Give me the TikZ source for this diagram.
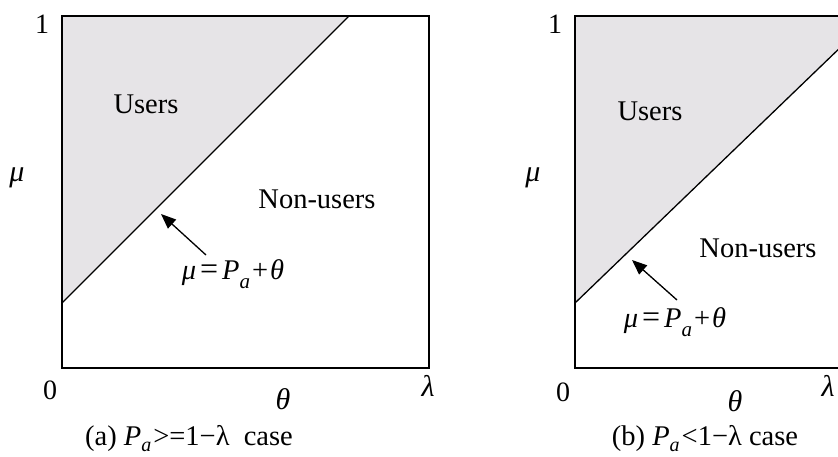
\documentclass[tikz,border=0pt]{standalone}
\usepackage{fontspec}
\setmainfont{Liberation Serif}
\usetikzlibrary{arrows.meta}
\definecolor{shade}{RGB}{230,228,231}
\newcommand{\fsz}[1]{\fontsize{#1}{#1}\selectfont}
\newcommand{\formula}{\textit{μ}\kern4pt{\fsz{32}=}\kern4pt\textit{P}\raisebox{-0.32em}{\fsz{21}\textit{a}}\kern2pt+\kern2pt\textit{θ}}
\tikzset{
  boxline/.style={line width=1.7pt},
  diag/.style={line width=1.3pt},
  region/.style={fill=shade},
  lbl/.style={inner sep=0pt, font=\fsz{28.5}},
  ticklbl/.style={inner sep=0pt, font=\fsz{28}},
  axislbl/.style={inner sep=0pt, font=\fsz{30}\itshape},
  captxt/.style={inner sep=0pt, anchor=base, font=\fsz{28.5}},
  pointer/.style={line width=1.3pt, -{Triangle[length=15pt,width=12pt]}}
}
\begin{document}
\begin{tikzpicture}[x=1pt,y=-1pt]
\useasboundingbox (0,0) rectangle (838,456);
\clip (0,0) rectangle (838,456);
% ---------- (a) ----------
\fill[region] (62,16) -- (349,16) -- (62,303) -- cycle;
\draw[diag] (62,303) -- (349,16);
\draw[boxline] (62,16) rectangle (429,368);
\node[ticklbl] (a1) at (42,24) {1};
\node[ticklbl] (a0) at (50,390) {0};
\node[axislbl] (amu) at (17,178) {μ};
\node[axislbl] (ath) at (283,399) {θ};
\node[axislbl] (ala) at (428,386) {λ};
\node[lbl] (ausers) at (146,104) {Users};
\node[lbl] (anon) at (317,199) {Non-users};
\node[lbl] (aform) at (233,274) {\formula};
\coordinate (atail) at (206,255);
\coordinate (atip) at (161,214);
\draw[pointer] (atail) -- (atip);
\node[captxt] (acap) at (189,445) {(a) \textit{P}\raisebox{-0.24em}{\fsz{20}\textit{a}}\kern2pt>=1−λ\ \ case};
% ---------- (b) ----------
\fill[region] (575,16) -- (845,16) -- (845,43) -- (575,303) -- cycle;
\draw[diag] (575,303) -- (845,43);
\draw[boxline] (575,16) rectangle (842,368);
\node[ticklbl] (b1) at (555,24) {1};
\node[ticklbl] (b0) at (563,392) {0};
\node[axislbl] (bmu) at (533,178) {μ};
\node[axislbl] (bth) at (735,401) {θ};
\node[axislbl] (bla) at (828,386) {λ};
\node[lbl] (busers) at (650,111) {Users};
\node[lbl] (bnon) at (758,248) {Non-users};
\node[lbl] (bform) at (675,322) {\formula};
\coordinate (btail) at (677,300);
\coordinate (btip) at (632,260);
\draw[pointer] (btail) -- (btip);
\node[captxt] (bcap) at (705,445) {(b) \textit{P}\raisebox{-0.24em}{\fsz{20}\textit{a}}\kern2pt<1−λ case};
\end{tikzpicture}
\end{document}
